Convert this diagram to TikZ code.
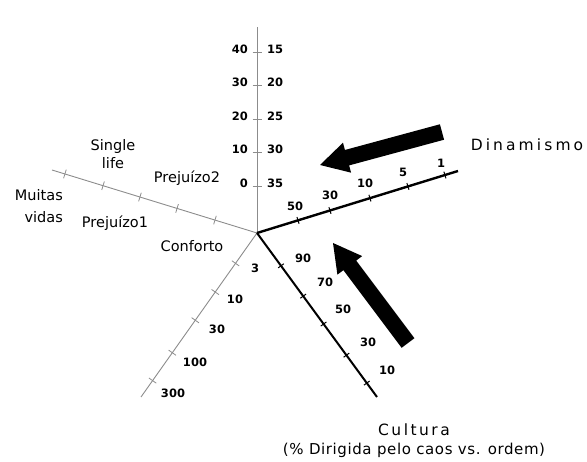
\documentclass[tikz,border=0pt]{standalone}
\usepackage{fontspec}
\setmainfont{DejaVu Sans}
\usetikzlibrary{calc}
\begin{document}
\begin{tikzpicture}[x=1pt,y=-1pt,
  num/.style={inner sep=0pt,font=\fontsize{11.5}{12}\selectfont\bfseries},
  lbl/.style={inner sep=0pt,font=\fontsize{14.5}{18}\selectfont,align=center},
  grayax/.style={draw=black!45,line width=0.9pt},
  graytick/.style={draw=black!45,line width=0.8pt},
  blackax/.style={draw=black,line width=2.4pt},
  blacktick/.style={draw=black,line width=1pt},
  bigarrow/.style={fill=black,draw=none}]
\useasboundingbox (0,0) rectangle (587,462);
\coordinate (O) at (257,233);
\coordinate (V) at (257,27);
\coordinate (L) at (52,170);
\coordinate (LL) at (141,397);
\coordinate (D) at (458,171);
\coordinate (C) at (377,397);

% gray axes
\draw[grayax] (O) -- (V);
\draw[grayax] (O) -- (L);
\draw[grayax] (O) -- (LL);

\foreach \i/\a/\b in {0/40/15,1/30/20,2/20/25,3/10/30,4/0/35}{
  \pgfmathsetmacro\yy{52+33.5*\i}
  \draw[graytick] (252.5,\yy) -- (261.5,\yy);
  \node[num,anchor=east] (vl\i) at (248,\yy-3) {\a};
  \node[num,anchor=west] (vr\i) at (267,\yy-3) {\b};
}
\foreach \t in {0.205,0.39,0.571,0.751,0.937}{
  \coordinate (tk) at ($(O)!\t!(L)$);
  \draw[graytick] ($(tk)!4.5pt!90:(L)$) -- ($(tk)!4.5pt!-90:(L)$);
}
\foreach \t in {0.185,0.36,0.532,0.73,0.90}{
  \coordinate (tk) at ($(O)!\t!(LL)$);
  \draw[graytick] ($(tk)!4.5pt!90:(LL)$) -- ($(tk)!4.5pt!-90:(LL)$);
}

% black axes
\draw[blackax] (O) -- (D);
\foreach \t in {0.204,0.363,0.562,0.751,0.935}{
  \coordinate (tk) at ($(O)!\t!(D)$);
  \draw[blacktick] ($(tk)!3.5pt!90:(D)$) -- ($(tk)!3.5pt!-90:(D)$);
}
\draw[blackax,line width=2pt] (O) -- (C);
\foreach \t in {0.2,0.385,0.555,0.745,0.915}{
  \coordinate (tk) at ($(O)!\t!(C)$);
  \draw[blacktick] ($(tk)!3.5pt!90:(C)$) -- ($(tk)!3.5pt!-90:(C)$);
}

% numbers
\node[num] (d50) at (295,206) {50};
\node[num] (d30) at (330,195) {30};
\node[num] (d10) at (365,183) {10};
\node[num] (d5) at (403,172) {5};
\node[num] (d1) at (441,163) {1};
\node[num] (c90) at (303,258) {90};
\node[num] (c70) at (325,282) {70};
\node[num] (c50) at (343,309) {50};
\node[num] (c30) at (368,342) {30};
\node[num] (c10) at (387,370) {10};
\node[num] (k3) at (255,268) {3};
\node[num] (k10) at (235,299) {10};
\node[num] (k30) at (217,329) {30};
\node[num] (k100) at (195,362) {100};
\node[num] (k300) at (173,393) {300};

% labels
\node[lbl] (single) at (113,154) {Single\\life};
\node[lbl] (prej2) at (187,178) {Prejuízo2};
\node[lbl,align=right,anchor=east,font=\fontsize{14.5}{22}\selectfont] (muitas) at (63,206) {Muitas\\vidas};
\node[lbl] (prej1) at (115,223) {Prejuízo1};
\node[lbl] (conforto) at (192,246) {Conforto};
\node[lbl,font=\fontsize{15.5}{18}\selectfont\addfontfeature{LetterSpace=20}] (dina) at (527,145) {Dinamismo};
\node[lbl,font=\fontsize{15.5}{18}\selectfont\addfontfeature{LetterSpace=16}] (cult) at (414,430) {Cultura};
\node[lbl,font=\fontsize{15}{18}\selectfont\addfontfeature{LetterSpace=4}] (cultsub) at (414,450) {(\% Dirigida pelo caos vs. ordem)};

% big arrows
\coordinate (A1t) at (442,132);
\coordinate (A1h) at (320,165);
\coordinate (A1b) at ($(A1h)!28pt!(A1t)$);
\fill[bigarrow] (A1h) -- ($(A1b)!15.5pt!90:(A1h)$) -- ($(A1b)!8pt!90:(A1h)$)
  -- ($(A1t)!8pt!90:(A1h)$) -- ($(A1t)!8pt!-90:(A1h)$)
  -- ($(A1b)!8pt!-90:(A1h)$) -- ($(A1b)!15.5pt!-90:(A1h)$) -- cycle;
\coordinate (A2t) at (408,343);
\coordinate (A2h) at (333,243);
\coordinate (A2b) at ($(A2h)!28pt!(A2t)$);
\fill[bigarrow] (A2h) -- ($(A2b)!15.5pt!90:(A2h)$) -- ($(A2b)!8pt!90:(A2h)$)
  -- ($(A2t)!8pt!90:(A2h)$) -- ($(A2t)!8pt!-90:(A2h)$)
  -- ($(A2b)!8pt!-90:(A2h)$) -- ($(A2b)!15.5pt!-90:(A2h)$) -- cycle;
\end{tikzpicture}
\end{document}
